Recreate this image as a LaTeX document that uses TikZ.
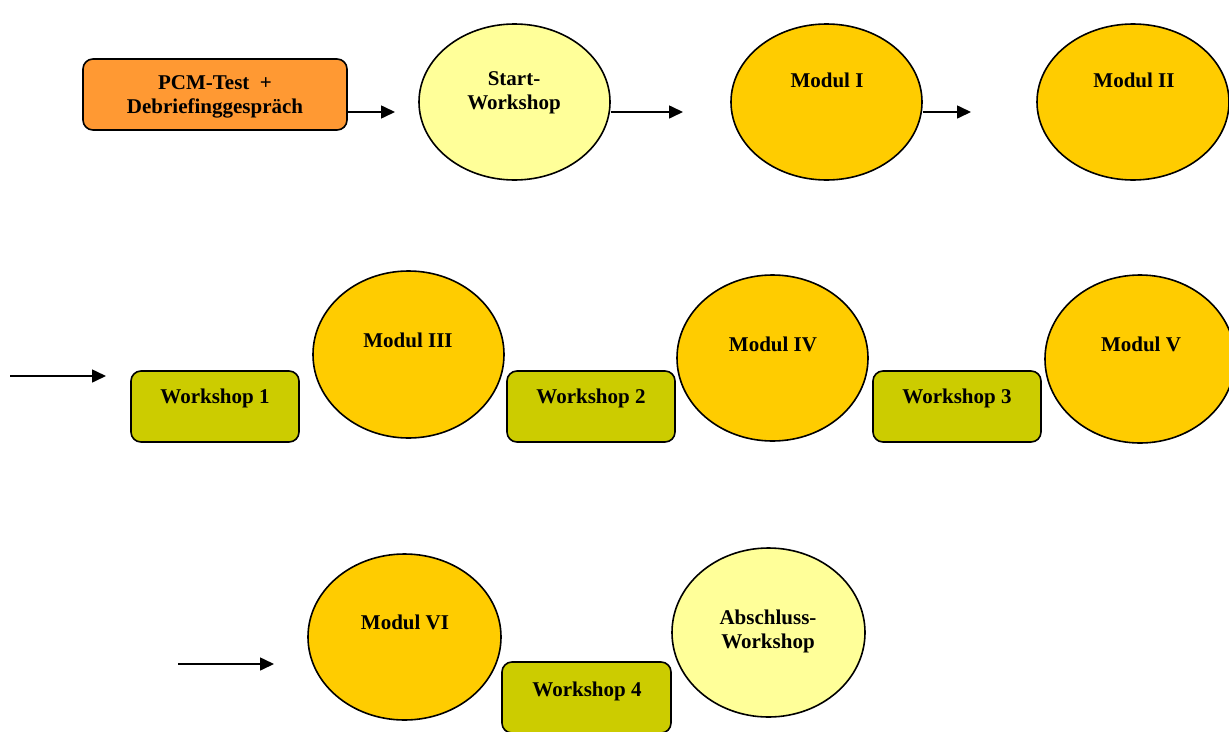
\documentclass[tikz,border=0pt]{standalone}
\usepackage{fontspec}
\setmainfont{Liberation Serif}
\usetikzlibrary{shapes.geometric,arrows.meta,calc}
\definecolor{cOrange}{HTML}{FF9933}
\definecolor{cLight}{HTML}{FFFF99}
\definecolor{cGold}{HTML}{FFCC00}
\definecolor{cOlive}{HTML}{CCCC00}
\begin{document}
\begin{tikzpicture}[x=1pt,y=-1pt,
  boxshape/.style={draw=black,line width=1.6pt,rounded corners=10pt,inner sep=0pt},
  ovalshape/.style={draw=black,line width=1.6pt,ellipse,inner sep=0pt},
  lbl/.style={font=\fontsize{21}{24}\selectfont\bfseries,align=center,inner sep=0pt},
  flow/.style={line width=1.6pt,-{Triangle[length=14pt,width=13pt]}}
]
\useasboundingbox (0,0) rectangle (1229,731);
% row 1
\node[boxshape,fill=cOrange,minimum width=264pt,minimum height=71pt] (pcm) at (215,94.5) {};
\node[lbl] (pcmt) at (215,97) {PCM-Test~~+\\Debriefinggespräch};
\node[ovalshape,fill=cLight,minimum width=191pt,minimum height=156pt] (start) at (514.5,102) {};
\node[lbl] (startt) at (514,93) {Start-\\Workshop};
\node[ovalshape,fill=cGold,minimum width=191pt,minimum height=156pt] (m1) at (826.5,102) {};
\node[lbl] (m1t) at (827,80) {Modul I};
\node[ovalshape,fill=cGold,minimum width=192pt,minimum height=156pt] (m2) at (1133,102) {};
\node[lbl] (m2t) at (1134,80) {Modul II};
\coordinate (e1) at (395,112);
\coordinate (e2) at (683,112);
\coordinate (e3) at (971,112);
\draw[flow] (pcm.east |- e1) -- (e1);
\draw[flow] (start.east |- e2) -- (e2);
\draw[flow] (m1.east |- e3) -- (e3);
% row 2
\coordinate (s4) at (10,376);
\coordinate (e4) at (106,376);
\draw[flow] (s4) -- (e4);
\node[boxshape,fill=cOlive,minimum width=168pt,minimum height=71pt] (w1) at (215,406.5) {};
\node[lbl] (w1t) at (215,398) {Workshop 1};
\node[ovalshape,fill=cGold,minimum width=191pt,minimum height=167pt] (m3) at (408.5,354.5) {};
\node[lbl] (m3t) at (408,340) {Modul III};
\node[boxshape,fill=cOlive,minimum width=168pt,minimum height=71pt] (w2) at (591,406.5) {};
\node[lbl] (w2t) at (591,398) {Workshop 2};
\node[ovalshape,fill=cGold,minimum width=191pt,minimum height=166pt] (m4) at (772.5,358) {};
\node[lbl] (m4t) at (773,344) {Modul IV};
\node[boxshape,fill=cOlive,minimum width=168pt,minimum height=71pt] (w3) at (957,406.5) {};
\node[lbl] (w3t) at (957,398) {Workshop 3};
\node[ovalshape,fill=cGold,minimum width=190pt,minimum height=168pt] (m5) at (1140,359) {};
\node[lbl] (m5t) at (1141,344) {Modul V};
% row 3
\coordinate (s5) at (178,664);
\coordinate (e5) at (274,664);
\draw[flow] (s5) -- (e5);
\node[ovalshape,fill=cGold,minimum width=193pt,minimum height=166pt] (m6) at (404.5,637) {};
\node[lbl] (m6t) at (405,622) {Modul VI};
\node[boxshape,fill=cOlive,minimum width=169pt,minimum height=71pt] (w4) at (586.5,697.5) {};
\node[lbl] (w4t) at (587,691) {Workshop 4};
\node[ovalshape,fill=cLight,minimum width=193pt,minimum height=169pt] (ab) at (768.5,632.5) {};
\node[lbl] (abt) at (768,631) {Abschluss-\\Workshop};
\end{tikzpicture}
\end{document}
